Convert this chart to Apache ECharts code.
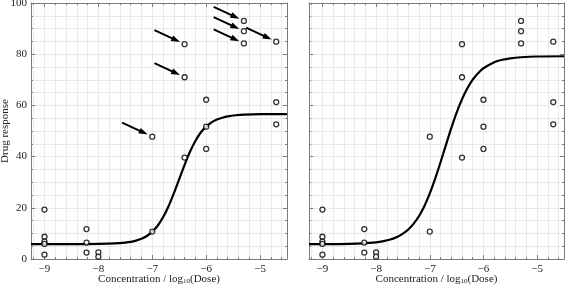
<!DOCTYPE html>
<html lang="en">
<head>
    <meta charset="UTF-8" />
    <title>Drug response</title>
    <script src="https://cdn.jsdelivr.net/npm/echarts@6/dist/echarts.min.js"></script>
    <style>
        html, body { margin: 0; padding: 0; background: #fff; }
    </style>
</head>
<body>
    <div style="width: 566px; height: 286px" id="chart"></div>
    <script>
        const myChart = echarts.init(document.getElementById("chart"));

        // observations (log10 dose, response)
        const doseX = [-9, -9, -9, -9, -9, -8.22, -8.22, -8.22, -8, -8, -7, -7,
            -6.4, -6.4, -6.4, -6, -6, -6, -5.3, -5.3, -5.3, -4.7, -4.7, -4.7];
        const responseY = [19.3, 8.7, 6.8, 5.9, 1.7, 11.7, 6.4, 2.5, 2.6, 0.9, 47.8, 10.7,
            83.9, 71, 39.6, 62.2, 51.7, 43, 93, 89, 84.2, 84.9, 61.3, 52.6];
        // 1 = point marked with an arrow in the left panel
        const flagged = [0, 0, 0, 0, 0, 0, 0, 0, 0, 0, 1, 0,
            1, 1, 0, 0, 0, 0, 1, 1, 1, 1, 0, 0];

        // fitted curves
        const leftFitX = [-9.25, -8.5, -8, -7.6, -7.5, -7.4, -7.3, -7.2, -7.1, -7.0, -6.9, -6.8, -6.7, -6.6,
            -6.5, -6.4, -6.3, -6.2, -6.1, -6.0, -5.9, -5.8, -5.7, -5.6, -5.45, -5.3, -5.0, -4.5];
        const leftFitY = [5.8, 5.8, 5.9, 6.2, 6.4, 6.7, 7.2, 7.9, 9.0, 10.7, 13.0, 16.3, 20.5, 25.6,
            31.2, 36.8, 41.9, 46.1, 49.4, 51.7, 53.4, 54.5, 55.2, 55.7, 56.15, 56.4, 56.6, 56.6];
        const rightFitX = [-9.25, -8.5, -8, -7.75, -7.6, -7.5, -7.4, -7.3, -7.2, -7.1, -7.0, -6.9, -6.8, -6.7,
            -6.6, -6.5, -6.4, -6.3, -6.2, -6.1, -6.0, -5.8, -5.65, -5.5, -5.3, -5.0, -4.5];
        const rightFitY = [5.8, 5.9, 6.5, 7.5, 8.7, 9.9, 11.5, 13.8, 16.8, 20.7, 25.6, 31.4, 37.8, 44.5,
            51.1, 57.2, 62.4, 66.7, 70.1, 72.6, 74.5, 76.9, 77.85, 78.4, 78.8, 79.1, 79.2];

        const xMin = -9.25, xMax = -4.5;
        const yMin = 0, yMax = 100, yStep = 20;

        const font = "Liberation Serif";
        const frame = "#7a7a7a";
        const gridCol = "#e9e9e9";

        const points = doseX.map((x, i) => [x, responseY[i]]);
        const zip = (xs, ys) => xs.map((x, i) => [x, ys[i]]);

        // arrows: tail up-left of the point, head just short of it
        const arrows = points.filter((p, i) => flagged[i]).map(p => [
            { coord: [p[0] - 0.56, p[1] + 5.5] },
            { coord: [p[0] - 0.16, p[1] + 1.6] },
        ]);

        const minus = v => String(v).replace("-", "\u2212");

        function xAxisFor(gridIndex, top) {
            return {
                type: "value",
                gridIndex: gridIndex,
                position: top ? "top" : "bottom",
                min: xMin,
                max: xMax,
                splitNumber: 5,
                name: top ? "" : "{n|Concentration / log}{s|10}{n|(Dose)}",
                nameLocation: "middle",
                nameGap: 15,
                nameMoveOverlap: false,
                nameTextStyle: {
                    color: "#222",
                    rich: {
                        n: { fontFamily: font, fontSize: 11, color: "#222", verticalAlign: "bottom" },
                        s: { fontFamily: font, fontSize: 7, color: "#222", verticalAlign: "bottom" },
                    },
                },
                axisLine: { show: true, onZero: false, lineStyle: { color: frame, width: 1 } },
                axisTick: { show: true, inside: true, length: 4, lineStyle: { color: frame } },
                minorTick: { show: true, splitNumber: 5, length: 2, lineStyle: { color: frame } },
                axisLabel: {
                    show: !top,
                    showMinLabel: false,
                    showMaxLabel: false,
                    margin: 5,
                    fontFamily: font,
                    fontSize: 11,
                    color: "#222",
                    formatter: minus,
                },
                splitLine: { show: !top, lineStyle: { color: gridCol, width: 1 } },
                minorSplitLine: { show: !top, lineStyle: { color: gridCol, width: 1 } },
            };
        }

        function yAxisFor(gridIndex, right, labels) {
            return {
                type: "value",
                gridIndex: gridIndex,
                position: right ? "right" : "left",
                min: yMin,
                max: yMax,
                interval: yStep,
                name: labels ? "Drug response" : "",
                nameLocation: "middle",
                nameGap: 20,
                nameMoveOverlap: false,
                nameTextStyle: { fontFamily: font, fontSize: 11, color: "#222" },
                axisLine: { show: true, onZero: false, lineStyle: { color: frame, width: 1 } },
                axisTick: { show: true, inside: true, length: 4, lineStyle: { color: frame } },
                minorTick: { show: true, splitNumber: 4, length: 2, lineStyle: { color: frame } },
                axisLabel: {
                    show: labels,
                    margin: 4,
                    fontFamily: font,
                    fontSize: 11,
                    color: "#222",
                },
                splitLine: { show: !right, lineStyle: { color: gridCol, width: 1 } },
                minorSplitLine: { show: !right, lineStyle: { color: gridCol, width: 1 } },
            };
        }

        const pointStyle = {
            type: "scatter",
            symbol: "circle",
            symbolSize: 5,
            itemStyle: { color: "#fff", borderColor: "#000", borderWidth: 1.3 },
            z: 5,
        };

        const lineStyle = {
            type: "line",
            showSymbol: false,
            smooth: 0.3,
            lineStyle: { color: "#000", width: 2.2 },
            z: 3,
        };

        option = {
            animation: false,
            backgroundColor: "#fff",
            grid: [
                { left: 31, top: 3, right: 279, bottom: 27, outerBoundsMode: "none" },
                { left: 309, top: 3, right: 2, bottom: 27, outerBoundsMode: "none" },
            ],
            xAxis: [xAxisFor(0, false), xAxisFor(0, true), xAxisFor(1, false), xAxisFor(1, true)],
            yAxis: [yAxisFor(0, false, true), yAxisFor(0, true, false), yAxisFor(1, false, false), yAxisFor(1, true, false)],
            series: [
                Object.assign({}, lineStyle, { xAxisIndex: 0, yAxisIndex: 0, data: zip(leftFitX, leftFitY) }),
                Object.assign({}, pointStyle, {
                    xAxisIndex: 0, yAxisIndex: 0, data: points,
                    markLine: {
                        silent: true,
                        animation: false,
                        symbol: ["none", "triangle"],
                        symbolSize: [6, 9],
                        label: { show: false },
                        emphasis: { disabled: true },
                        lineStyle: { color: "#000", width: 2, type: "solid" },
                        data: arrows,
                    },
                }),
                Object.assign({}, lineStyle, { xAxisIndex: 2, yAxisIndex: 2, data: zip(rightFitX, rightFitY) }),
                Object.assign({}, pointStyle, { xAxisIndex: 2, yAxisIndex: 2, data: points }),
            ],
        };

        myChart.setOption(option);
    </script>
</body>
</html>
